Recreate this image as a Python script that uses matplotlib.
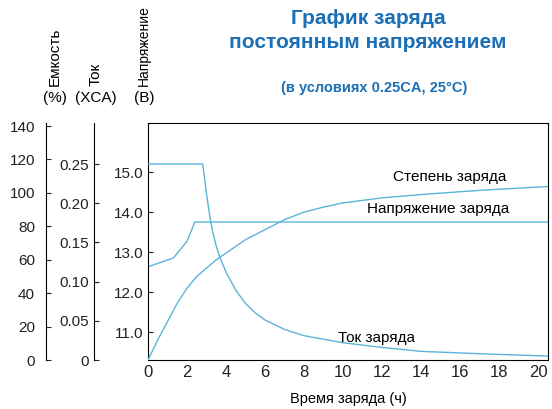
import matplotlib
matplotlib.use("Agg")
import matplotlib.pyplot as plt

plt.rcParams["font.family"] = ["Liberation Sans", "DejaVu Sans"]

hours_v = [0, 1.3, 2.0, 2.4, 20.5]
voltage = [12.63, 12.85, 13.27, 13.75, 13.75]
hours_i = [0, 2.8, 2.9, 3.0, 3.15, 3.3, 3.5, 3.7, 4.0, 4.5, 5.0, 5.5, 6.0, 7.0, 8.0, 10.0, 12.0, 14.0, 17.0, 20.5]
current = [0.25, 0.25, 0.232, 0.212, 0.186, 0.165, 0.145, 0.13, 0.112, 0.089, 0.072, 0.06, 0.051, 0.039, 0.031, 0.022, 0.016, 0.011, 0.008, 0.005]
hours_c = [0, 0.25, 0.5, 0.75, 1, 1.5, 2, 2.5, 3, 3.5, 4, 4.5, 5, 5.5, 6, 7, 8, 9, 10, 12, 14, 17, 20.5]
capacity = [0, 6, 12, 17.5, 23, 34, 43, 50, 55, 60, 64, 68, 72, 75, 78, 84, 88.5, 91.5, 94, 97, 99, 101.5, 103.8]

line_c = "#5ab4dc"
title_c = "#1a6fb5"
fig = plt.figure(figsize=(5.52, 4.09), dpi=100)
ax = fig.add_axes([148/552, 49/409, 400/552, 237/409])
ax.set_xlim(0, 20.5)
ax.set_ylim(10.3, 16.225)
ax.plot(hours_v, voltage, color=line_c, lw=1)
ax.set_yticks([11, 12, 13, 14, 15])
ax.set_yticklabels(["11.0", "12.0", "13.0", "14.0", "15.0"])
ax.set_xticks(range(0, 21, 2))
ax.tick_params(direction="in", labelsize=11, colors="#222222")
ax.tick_params(axis="x", labelsize=12, length=0)
ax.set_xlabel("Время заряда (ч)", fontsize=10.5, labelpad=9)

axi = ax.twinx()
axi.set_ylim(0, 0.25 * 237 / 196)
axi.plot(hours_i, current, color=line_c, lw=1)
axi.yaxis.set_ticks_position("left")
axi.spines["left"].set_position(("axes", -0.135))
axi.spines["left"].set_visible(True)
for s in ["right", "top", "bottom"]:
    axi.spines[s].set_visible(False)
axi.set_yticks([0, 0.05, 0.10, 0.15, 0.20, 0.25])
axi.set_yticklabels(["0", "0.05", "0.10", "0.15", "0.20", "0.25"])
axi.tick_params(direction="in", labelsize=11, colors="#222222", left=True, labelleft=True, right=False, labelright=False)

axc = ax.twinx()
axc.set_ylim(0, 140 * 237 / 234)
axc.plot(hours_c, capacity, color=line_c, lw=1)
axc.yaxis.set_ticks_position("left")
axc.spines["left"].set_position(("axes", -0.255))
axc.spines["left"].set_visible(True)
for s in ["right", "top", "bottom"]:
    axc.spines[s].set_visible(False)
axc.set_yticks(range(0, 141, 20))
axc.tick_params(direction="in", labelsize=11, colors="#222222", left=True, labelleft=True, right=False, labelright=False, pad=8)

fig.text(450/552, 1 - 177/409, "Степень заряда", ha="center", va="center", fontsize=11)
fig.text(438/552, 1 - 209/409, "Напряжение заряда", ha="center", va="center", fontsize=11)
fig.text(376/552, 1 - 338/409, "Ток заряда", ha="center", va="center", fontsize=11)

fig.text(368/552, 1 - 18/409, "График заряда", ha="center", va="center", fontsize=15, fontweight="bold", color=title_c)
fig.text(368/552, 1 - 43/409, "постоянным напряжением", ha="center", va="center", fontsize=15, fontweight="bold", color=title_c)
fig.text(374/552, 1 - 88/409, "(в условиях 0.25CA, 25°C)", ha="center", va="center", fontsize=10.5, fontweight="bold", color=title_c)

for x, t, u, fs in [(55, "Емкость", "(%)", 11), (96, "Ток", "(XCA)", 11), (144, "Напряжение", "(B)", 10)]:
    fig.text(x/552, 1 - 86/409, t, rotation=90, ha="center", va="bottom", fontsize=fs)
    fig.text(x/552, 1 - 98/409, u, ha="center", va="center", fontsize=11)

fig.savefig("out.png", dpi=100)
